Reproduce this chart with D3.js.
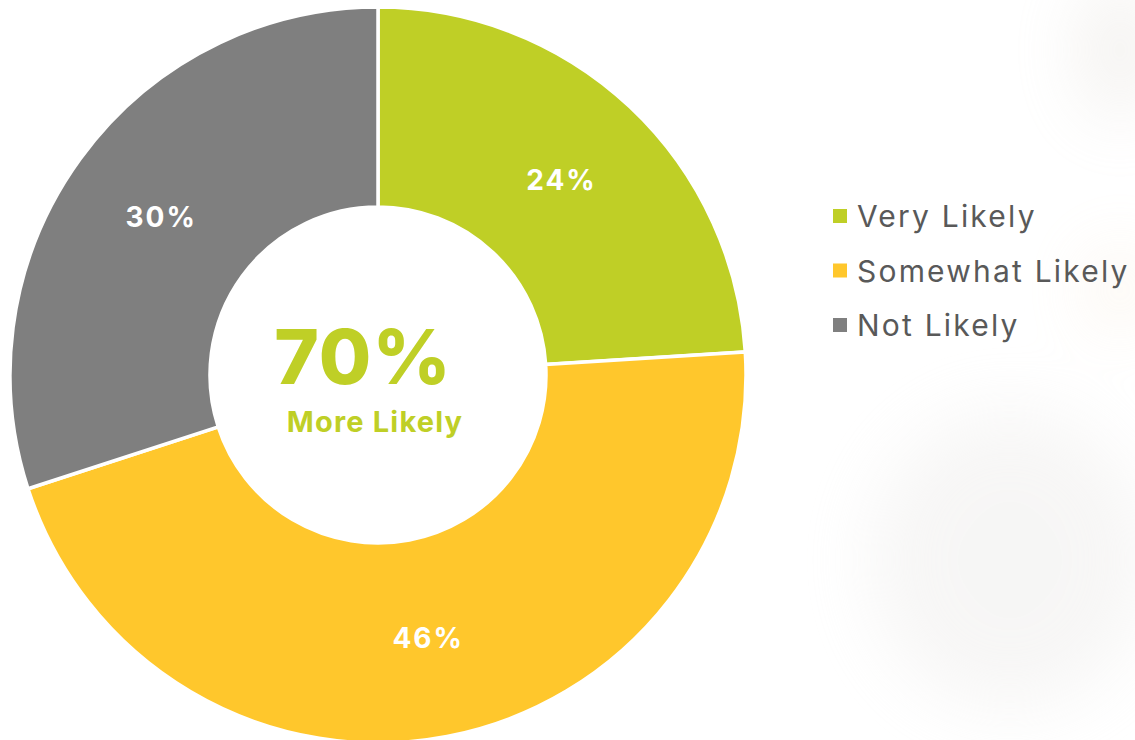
<!DOCTYPE html>
<html>
<head>
<meta charset="utf-8">
<script src="https://cdn.jsdelivr.net/npm/d3@7"></script>
<style>
  html, body { margin: 0; padding: 0; background: #fff; }
  svg { display: block; }
</style>
</head>
<body>
<svg id="chart"></svg>
<script>
const WIDTH = 1135;
const HEIGHT = 740;

const categories = ["Very Likely", "Somewhat Likely", "Not Likely"];
const values = [24, 46, 30];
const colors = ["#BFCF26", "#FFC72C", "#7F7F7F"];
const centerValue = "70%";
const centerLabel = "More Likely";

const FONT = "Inter, 'Noto Sans', sans-serif";

const svg = d3.select("#chart").attr("width", WIDTH).attr("height", HEIGHT);

// faint blurred backdrop on the right
const defs = svg.append("defs");
defs.append("filter").attr("id", "blur")
  .attr("x", "-50%").attr("y", "-50%").attr("width", "200%").attr("height", "200%")
  .append("feGaussianBlur").attr("stdDeviation", 35);
const bg = svg.append("g").attr("filter", "url(#blur)").attr("opacity", 0.35);
bg.append("ellipse").attr("cx", 1010).attr("cy", 560).attr("rx", 140).attr("ry", 150).attr("fill", "#e8e6e4");
bg.append("ellipse").attr("cx", 1120).attr("cy", 50).attr("rx", 40).attr("ry", 70).attr("fill", "#e0dad3");
bg.append("ellipse").attr("cx", 1120).attr("cy", 290).attr("rx", 30).attr("ry", 40).attr("fill", "#f4e2cc");

const colorScale = d3.scaleOrdinal().domain(categories).range(colors);

const pie = d3.pie().sort(null).value((d) => d.value);
const arcs = pie(categories.map((c, i) => ({ name: c, value: values[i] })));

const outerR = 368;
const innerR = 168;
const arc = d3.arc().innerRadius(innerR).outerRadius(outerR);
const labelArc = d3.arc().innerRadius((innerR + outerR) / 2).outerRadius((innerR + outerR) / 2);

const donut = svg.append("g").attr("transform", "translate(378, 375)");

donut.selectAll("path")
  .data(arcs)
  .join("path")
  .attr("d", arc)
  .attr("fill", (d) => colorScale(d.data.name))
  .attr("stroke", "#fff")
  .attr("stroke-width", 3.5);

donut.selectAll("text.pct")
  .data(arcs)
  .join("text")
  .attr("class", "pct")
  .attr("transform", (d) => `translate(${labelArc.centroid(d)})`)
  .attr("text-anchor", "middle")
  .attr("dominant-baseline", "central")
  .attr("font-family", FONT)
  .attr("font-weight", 700)
  .attr("font-size", 28)
  .attr("letter-spacing", 2)
  .attr("fill", "#fff")
  .text((d) => `${d.data.value}%`);

donut.append("text")
  .attr("x", -15)
  .attr("y", 9)
  .attr("text-anchor", "middle")
  .attr("font-family", FONT)
  .attr("font-weight", 800)
  .attr("font-size", 76)
  .attr("letter-spacing", 1)
  .attr("fill", "#BFCF26")
  .text(centerValue);

donut.append("text")
  .attr("x", -3)
  .attr("y", 57)
  .attr("text-anchor", "middle")
  .attr("font-family", FONT)
  .attr("font-weight", 700)
  .attr("font-size", 29)
  .attr("letter-spacing", 1.2)
  .attr("fill", "#BFCF26")
  .text(centerLabel);

svg.append("g")
  .attr("class", "category-legend")
  .attr("transform", "translate(833, 216)")
  .selectAll(".category")
  .data(categories)
  .join((element) => {
    const g = element.append("g")
      .attr("class", "category")
      .attr("transform", (_, i) => `translate(0, ${i * 54.5})`);
    g.append("rect")
      .attr("x", 0).attr("y", -7)
      .attr("width", 14).attr("height", 14)
      .attr("fill", (d) => colorScale(d));
    g.append("text")
      .text((d) => d)
      .attr("x", 24)
      .attr("y", 0)
      .attr("dominant-baseline", "central")
      .attr("font-family", FONT)
      .attr("font-size", 30)
      .attr("letter-spacing", 2.2)
      .attr("fill", "#595959");
    return g;
  });
</script>
</body>
</html>
